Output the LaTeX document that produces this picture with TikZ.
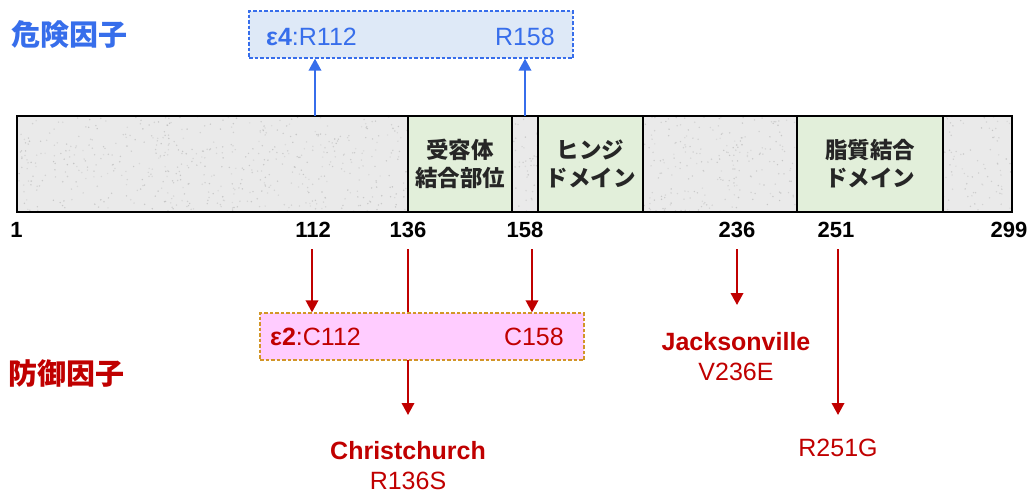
\documentclass[tikz,border=0pt]{standalone}
\usepackage{fontspec}
\setmainfont{Liberation Sans}
\newfontfamily\jp{Noto Sans CJK JP}
\usetikzlibrary{arrows.meta}
\definecolor{blueT}{RGB}{55,110,235}
\definecolor{blueFill}{RGB}{222,233,247}
\definecolor{redT}{RGB}{192,0,0}
\definecolor{pinkFill}{RGB}{255,204,255}
\definecolor{goldB}{RGB}{210,150,40}
\definecolor{domGreen}{RGB}{226,239,218}
\definecolor{barGray}{RGB}{234,234,234}
\tikzset{
  title/.style={anchor=west,inner sep=0pt,font=\jp\bfseries\fontsize{29}{32}\selectfont},
  dombox/.style={draw=black,line width=2pt,fill=domGreen},
  domlabel/.style={align=center,inner sep=0pt,font=\jp\bfseries\fontsize{22.5}{28}\selectfont,text=black!85},
  posnum/.style={inner sep=0pt,font=\bfseries\fontsize{22}{24}\selectfont},
  vartxt/.style={inner sep=0pt,font=\fontsize{25}{28}\selectfont},
  dashbox/.style={line width=1.3pt,dash pattern=on 3.5pt off 2pt,minimum width=324pt,minimum height=47pt,inner sep=0pt},
  bluearrow/.style={draw=blueT,line width=1.9pt,-{Triangle[width=12.5pt,length=12pt]}},
  redarrow/.style={draw=redT,line width=1.9pt,-{Triangle[width=12.5pt,length=12pt]}},
}
\begin{document}
\begin{tikzpicture}[x=1pt,y=-1pt]
\useasboundingbox (0,0) rectangle (1030,493);
% titles
\node[title,text=blueT] (risk) at (11,34) {危険因子};
\node[title,text=redT] (prot) at (8,374) {防御因子};
% protein bar with texture
\begin{scope}
\clip (17,116) rectangle (1012,212);
\fill[barGray] (17,116) rectangle (1012,212);
\pgfmathsetseed{7}
\foreach \i in {1,...,1400}{
  \pgfmathsetmacro{\rx}{17+rnd*995}
  \pgfmathsetmacro{\ry}{116+rnd*96}
  \pgfmathsetmacro{\rg}{int(25+rnd*25)}
  \fill[black!\rg,opacity=0.35] (\rx,\ry) circle (0.8pt);
}
\end{scope}
\node[draw=black,line width=2.4pt,minimum width=995pt,minimum height=96pt,inner sep=0pt] (bar) at (514.5,164) {};
% domains
\draw[dombox] (408,116) rectangle (512,212);
\draw[dombox] (538,116) rectangle (643,212);
\draw[dombox] (797,116) rectangle (943,212);
\node[domlabel] (rec) at (460,164) {受容体\\結合部位};
\node[domlabel] (hinge) at (590.5,164) {ヒンジ\\ドメイン};
\node[domlabel] (lipid) at (870,164) {脂質結合\\ドメイン};
% position numbers
\node[posnum] (p1) at (16.5,230) {1};
\node[posnum] (p112) at (313,230) {112};
\node[posnum] (p136) at (408,230) {136};
\node[posnum] (p158) at (525,230) {158};
\node[posnum] (p236) at (737,230) {236};
\node[posnum] (p251) at (836,230) {251};
\node[posnum] (p299) at (1009,230) {299};
% risk box
\coordinate (b112) at (315,116);
\coordinate (b158) at (525,116);
\node[dashbox,draw=blueT,fill=blueFill] (e4) at (411,34.5) {};
\node[vartxt,anchor=west,text=blueT] (e4a) at (266,37) {\textbf{ε4}:R112};
\node[vartxt,anchor=east,text=blueT] (e4b) at (555,37) {R158};
\draw[bluearrow] (b112) -- (b112 |- e4.south);
\draw[bluearrow] (b158) -- (b158 |- e4.south);
% protective
\coordinate (s112) at (312,249);
\coordinate (s136) at (408,249);
\coordinate (s158) at (532,249);
\coordinate (s236) at (737,249);
\coordinate (s251) at (838,249);
\coordinate (t136) at (408,415);
\coordinate (t236) at (737,305);
\coordinate (t251) at (838,415);
\draw[redarrow] (s136) -- (t136);
\node[dashbox,draw=goldB,fill=pinkFill] (e2) at (422,336.5) {};
\node[vartxt,anchor=west,text=redT] (e2a) at (270,337) {\textbf{ε2}:C112};
\node[vartxt,anchor=east,text=redT] (e2b) at (564,337) {C158};
\draw[redarrow] (s112) -- (s112 |- e2.north);
\draw[redarrow] (s158) -- (s158 |- e2.north);
\draw[redarrow] (s236) -- (t236);
\draw[redarrow] (s251) -- (t251);
\node[vartxt,text=redT,font=\bfseries\fontsize{25}{28}\selectfont] (cc) at (408,451) {Christchurch};
\node[vartxt,text=redT] (cc2) at (408,481) {R136S};
\node[vartxt,text=redT,font=\bfseries\fontsize{25}{28}\selectfont] (jv) at (736,342) {Jacksonville};
\node[vartxt,text=redT] (jv2) at (736,372) {V236E};
\node[vartxt,text=redT] (rg) at (838,448) {R251G};
\end{tikzpicture}
\end{document}
